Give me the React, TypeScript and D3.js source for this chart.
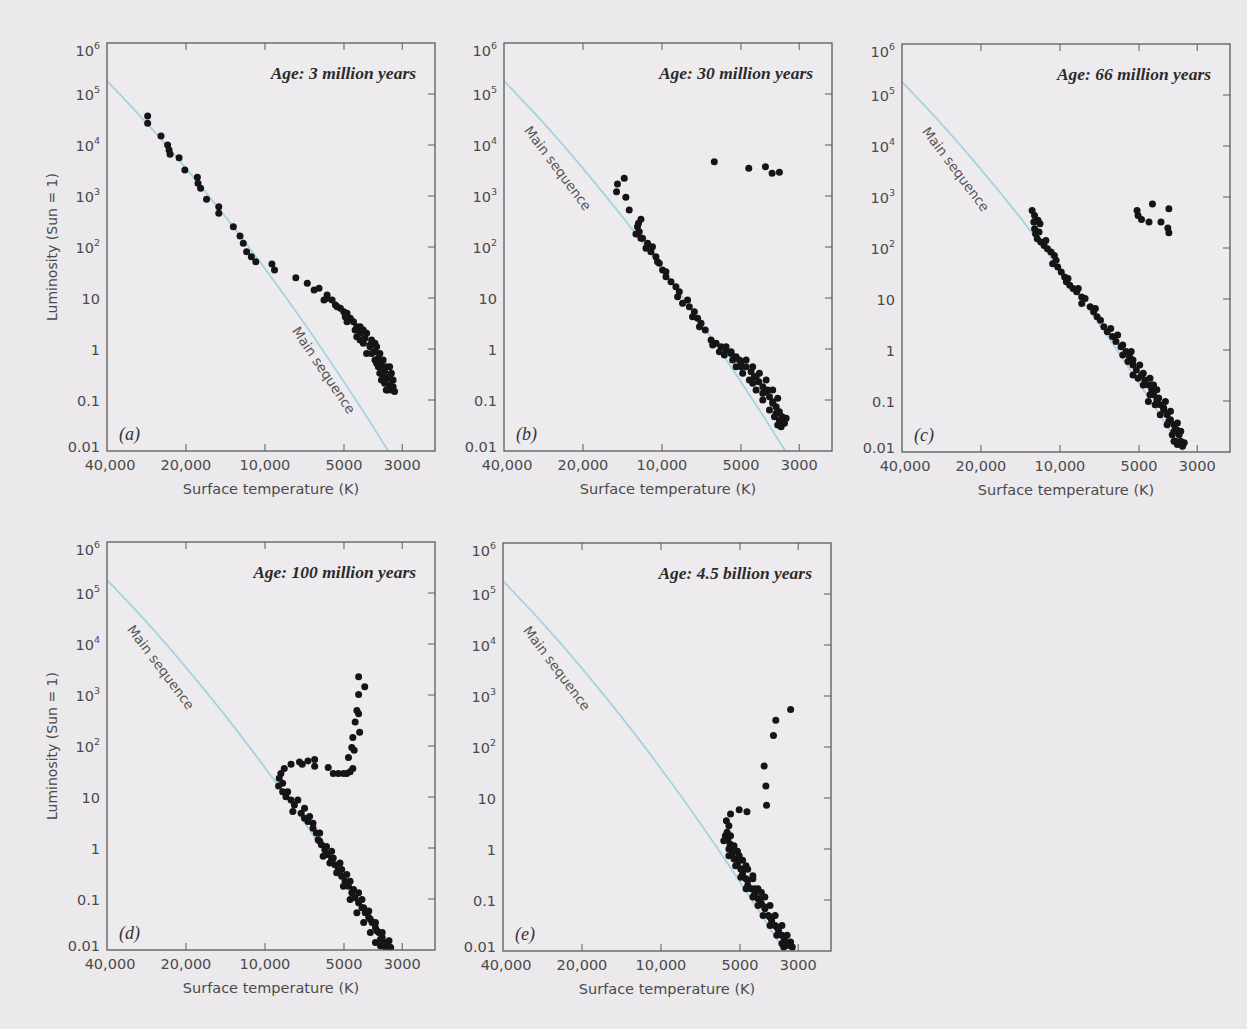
import React, { useEffect } from 'react';
import * as d3 from 'd3';

// ---------- axis ticks ----------
const xTicks = [40000, 20000, 10000, 5000, 3000];
const xTickLabels = ['40,000', '20,000', '10,000', '5000', '3000'];
const yTicks = [1e6, 1e5, 1e4, 1e3, 1e2, 10, 1, 0.1, 0.01];
const yTickBase = ['10', '10', '10', '10', '10', '10', '1', '0.1', '0.01'];
const yTickExp = ['6', '5', '4', '3', '2', '', '', '', ''];

// ---------- main sequence reference line ----------
const msTemp = [40000, 28300, 20050, 14190, 10050, 7110, 5035, 4000, 3390];
const msLum = [1.8e5, 2.71e4, 3530, 398, 38.8, 3.28, 0.239, 0.0386, 0.01];

// ---------- panel texts ----------
const panelTitles = [
  'Age: 3 million years',
  'Age: 30 million years',
  'Age: 66 million years',
  'Age: 100 million years',
  'Age: 4.5 billion years',
];
const panelLetters = ['(a)', '(b)', '(c)', '(d)', '(e)'];

// ---------- star data (surface temperature K, luminosity Sun=1) ----------
const tempA = [28000, 28000, 24900, 23500, 23200, 23000, 21250, 20200, 18100, 18000, 17600, 16700, 15000, 15000, 13200, 12450, 12100, 11750, 11270, 10840, 9410, 9200, 7630, 6900, 6500, 5800, 5310, 5010, 4730, 4470, 4340, 4160, 3980, 3810, 3700, 3600, 3500, 3400, 3350, 3300,
  4600, 4340, 4100, 3925, 3756, 3650, 3546, 3450, 3546, 3500, 3450, 3250, 4870, 5160, 4220, 3810, 5550, 5960, 3650, 3350,
  5392, 4946, 4535, 4340, 3980, 4100, 3810, 3700, 3652, 3300, 3350, 3600, 3250, 3400, 3208, 4870, 4470, 4220, 3925, 3756, 6225, 5800];
const lumA = [37000, 26600, 15000, 10000, 7980, 6580, 5640, 3240, 2330, 1770, 1420, 860, 617, 458, 250, 164, 118, 81, 64.5, 51.5, 46.4, 35.4, 25, 19.4, 14.4, 9.86, 6.75, 5.38, 4.0, 2.74, 2.03, 1.62, 1.2, 0.885, 0.657, 0.485, 0.359, 0.266, 0.197, 0.157,
  3.43, 2.74, 2.03, 1.5, 1.11, 0.82, 0.61, 0.45, 0.286, 0.212, 0.157, 0.182, 5.0, 6.3, 2.36, 1.29, 9.1, 9.1, 0.45, 0.286,
  7.3, 4.29, 2.36, 1.5, 1.11, 0.82, 0.61, 0.45, 0.334, 0.334, 0.45, 0.247, 0.247, 0.157, 0.146, 3.43, 1.74, 1.29, 0.82, 0.525, 15.5, 11.5];

const tempB = [6320, 4670, 4035, 3805, 3570, 13930, 14780, 14900, 13730, 13330,
  12030, 12400, 12210, 12570, 11860, 11350, 10870, 11020, 10550, 10240, 9950, 9660, 9240, 8850, 8590, 8720, 7990, 7870, 7530, 7315, 7100, 6840, 6500, 6220, 5955, 5700, 5455, 5220, 4995, 4780, 4575, 4445, 4280, 4130, 4010, 3895, 3785, 3673, 3570, 3485, 3466, 3515, 3415,
  3728, 3895, 4130, 4380, 4645, 4926, 5220, 5380, 5785, 4780, 4512, 4254, 4010, 3785, 3623,
  5700, 5070, 4995, 4380, 4512, 4130, 3953, 3785, 3673, 3570, 3364, 3623, 5455, 6410, 6046, 7200, 7650, 8350, 9660, 10400, 11510, 12030, 12290];
const lumB = [4710, 3490, 3760, 2790, 2920, 2220, 1720, 1213, 944, 531,
  349, 250, 200, 180, 148, 118, 101, 81, 64.5, 47.9, 35.4, 26.2, 20.9, 16.7, 13.3, 10.6, 9.14, 6.75, 5.38, 4.0, 3.19, 2.36, 1.5, 1.29, 1.11, 0.955, 0.82, 0.707, 0.564, 0.45, 0.359, 0.286, 0.229, 0.182, 0.146, 0.116, 0.0927, 0.074, 0.059, 0.047, 0.0376, 0.030, 0.0349,
  0.047, 0.0637, 0.1, 0.157, 0.247, 0.334, 0.45, 0.608, 0.762, 0.608, 0.45, 0.334, 0.247, 0.157, 0.108,
  1.11, 0.608, 0.45, 0.286, 0.212, 0.135, 0.157, 0.086, 0.0548, 0.0405, 0.0438, 0.0324, 0.885, 1.2, 0.885, 2.74, 4.3, 7.87, 32.8, 51.5, 94.4, 148, 292];

const tempC = [5085, 5040, 4890, 4443, 4580, 3847, 4123, 3882, 3847,
  12770, 12500, 12130, 11920, 12500, 12390, 12210, 11840, 11500, 11160, 10820, 10510, 10670, 10200, 9890, 9600, 9460, 9180, 8910, 8640, 8265, 8265, 7670, 7445, 7220, 6805, 6600, 6310, 6120, 5855, 5600, 5435, 5510, 5270, 5115, 4890, 4750, 4605, 4470, 4400, 4275, 4150, 4025, 3907, 3793, 3678, 3593, 3516, 3466, 3570, 3413,
  4540, 4340, 4150, 3907, 3735, 3678, 4605, 4816, 5040, 4400, 5270, 5766,
  12580, 12020, 11320, 10350, 9322, 8520, 8023, 7330, 7010, 6405, 6030, 5766, 5354, 5270, 4967, 4816, 4540, 4470, 4275, 4208, 3966, 4025, 3793, 3847, 3570, 3678, 3466, 3627, 3362];
const lumC = [542, 433, 362, 733, 322, 586, 322, 246, 199,
  542, 433, 350, 299, 238, 190, 152, 131, 112, 96.9, 83.5, 71.6, 49.3, 42.5, 34, 27.1, 21.7, 18.6, 16, 13.8, 11, 8.17, 7.04, 5.62, 4.49, 2.86, 2.29, 1.83, 1.46, 1.16, 0.93, 0.743, 0.593, 0.509, 0.406, 0.325, 0.259, 0.207, 0.166, 0.132, 0.105, 0.0843, 0.0673, 0.0537, 0.043, 0.0343, 0.0274, 0.0219, 0.0163, 0.014, 0.013,
  0.132, 0.0843, 0.0537, 0.0343, 0.0219, 0.0163, 0.098, 0.207, 0.28, 0.207, 0.325, 0.798,
  322, 205, 141, 57.3, 25.1, 16, 10.2, 6.52, 3.85, 2.65, 1.96, 1.25, 0.93, 0.638, 0.509, 0.351, 0.28, 0.207, 0.166, 0.114, 0.098, 0.0726, 0.0627, 0.04, 0.037, 0.0255, 0.0255, 0.0163, 0.0151];

const tempD = [4398, 4168, 4398, 4465, 4398, 4533, 4359, 4627, 4669, 4573, 4808, 4627, 4881, 4739,
  5025, 5252, 5494, 5743, 6468, 6468, 6859, 7215, 7391, 7957, 8445, 8698,
  8829, 8877, 8566, 8320, 7957, 7727, 7837, 7278, 7068, 6859, 6562, 6371, 6274, 6094, 5916, 5743, 5574, 5414, 5252, 5101, 4955, 4808, 4669, 4533, 4398, 4270, 4148, 4023, 3908, 3795, 3682, 3575, 3521, 3471, 3630, 3420,
  5025, 4739, 4465, 4207, 3968, 3795, 5333, 5659, 6002,
  8566, 8194, 7498, 7068, 6762, 6562, 6188, 6188, 5830, 5574, 5494, 5178, 5101, 4881, 4739, 4597, 4398, 4270, 4207, 4023, 3968, 3795, 3737, 3575, 3630, 3368, 3320];
const lumD = [2285, 1459, 1018, 497, 428, 294, 187, 146, 93, 82.4, 59.4, 36.3, 29, 31.1,
  29, 29, 29, 37.9, 54.3, 40.2, 51, 44, 48.8, 44, 36.3, 29,
  23.2, 16.4, 12.7, 10.1, 8.74, 6.98, 5.17, 4.81, 3.84, 3.3, 2.45, 1.96, 1.45, 1.16, 0.927, 0.74, 0.592, 0.472, 0.378, 0.279, 0.223, 0.178, 0.133, 0.106, 0.0847, 0.0677, 0.054, 0.0432, 0.0345, 0.0276, 0.022, 0.0176, 0.0141, 0.0112, 0.0121, 0.013,
  0.178, 0.098, 0.054, 0.0345, 0.022, 0.0141, 0.326, 0.51, 0.686,
  18.5, 12.7, 8.74, 6.03, 4.13, 3.07, 1.96, 1.35, 1.07, 0.859, 0.638, 0.51, 0.378, 0.302, 0.223, 0.154, 0.133, 0.098, 0.0677, 0.058, 0.04, 0.0345, 0.0237, 0.022, 0.0163, 0.0151, 0.0112];

const tempE = [3207, 3652, 3728, 4045, 3984, 3962,
  4704, 5036, 5433, 5634,
  5598, 5562, 5462, 5512, 5350, 5270, 5113, 4964, 4888, 4743, 4673, 4535, 4398, 4270, 4144, 4019, 3902, 3787, 3673, 3565, 3460, 3377, 3308, 3160, 3408,
  5270, 5036, 4743, 4466, 4270, 4019, 3842, 3673, 3460, 3308, 3207, 5685, 5113, 4888, 4673, 4466, 4144,
  5433, 5765, 5270, 5512, 5113, 5194, 4888, 4964, 4673, 4743, 4398, 4466, 4202, 4270, 4019, 4083, 3842, 3842, 3620, 3620, 3408, 3460, 3254, 5512];
const lumE = [543, 335, 168, 42.4, 17.2, 7.23,
  5.35, 5.86, 4.83, 3.57,
  2.12, 1.57, 1.25, 1.0, 0.8, 0.638, 0.51, 0.407, 0.325, 0.26, 0.192, 0.166, 0.132, 0.106, 0.0843, 0.0673, 0.0498, 0.0398, 0.0318, 0.0254, 0.0203, 0.0162, 0.0129, 0.012, 0.012,
  1.16, 0.74, 0.472, 0.26, 0.166, 0.114, 0.078, 0.0498, 0.0318, 0.0203, 0.015, 1.82, 0.9, 0.6, 0.4, 0.3, 0.14,
  1.82, 1.45, 1.0, 0.74, 0.638, 0.472, 0.407, 0.28, 0.24, 0.166, 0.166, 0.114, 0.106, 0.078, 0.0726, 0.0498, 0.0463, 0.0318, 0.0296, 0.0203, 0.0188, 0.014, 0.0129, 2.85];

// ---------- layout ----------
const W = 328;
const H = 408;
const PAGE_BG = '#ebe9ec';
const PLOT_BG = '#eeebef';
const AXIS_COL = '#5a5a5a';
const TEXT_COL = '#4a4a4a';
const MS_COL = '#a6d2e2';
const DOT_COL = '#151515';
const SANS = "'DejaVu Sans', Verdana, sans-serif";
const SERIF = "'Liberation Serif', 'Times New Roman', serif";

const panels = [
  { left: 107, top: 43, temps: tempA, lums: lumA, yLabel: true, msLabel: { t: 5960, l: 0.387, rot: 56 } },
  { left: 504, top: 43, temps: tempB, lums: lumB, yLabel: false, msLabel: { t: 24900, l: 3540, rot: 53 } },
  { left: 902, top: 44, temps: tempC, lums: lumC, yLabel: false, msLabel: { t: 24900, l: 3540, rot: 53 } },
  { left: 107, top: 542, temps: tempD, lums: lumD, yLabel: true, msLabel: { t: 24900, l: 3540, rot: 53 } },
  { left: 503, top: 543, temps: tempE, lums: lumE, yLabel: false, msLabel: { t: 24900, l: 3540, rot: 53 } },
];

const x = d3.scaleLog().domain([40000, 2250]).range([0, W]);
const y = d3.scaleLog().domain([0.01, 1e6]).range([H, 0]);

const msPath =
  d3
    .line<number>()
    .x((i) => x(msTemp[i]))
    .y((i) => y(msLum[i]))
    .curve(d3.curveMonotoneX)(msTemp.map((_, i) => i)) || '';

function Panel({ idx }: { idx: number }) {
  const p = panels[idx];
  const clipId = `clip-${idx}`;
  return (
    <g transform={`translate(${p.left},${p.top})`}>
      <defs>
        <clipPath id={clipId}>
          <rect x={0} y={0} width={W} height={H} />
        </clipPath>
      </defs>
      <rect x={0} y={0} width={W} height={H} fill={PLOT_BG} />

      {/* main sequence */}
      <path d={msPath} fill="none" stroke={MS_COL} strokeWidth={1.8} clipPath={`url(#${clipId})`} />
      <text
        transform={`translate(${x(p.msLabel.t)},${y(p.msLabel.l)}) rotate(${p.msLabel.rot})`}
        textAnchor="middle"
        dominantBaseline="central"
        fontFamily={SANS}
        fontSize={13.5}
        fill="#555"
      >
        Main sequence
      </text>

      {/* stars */}
      <g clipPath={`url(#${clipId})`}>
        {p.temps.map((t, i) => (
          <circle key={i} cx={x(t)} cy={y(p.lums[i])} r={3.5} fill={DOT_COL} />
        ))}
      </g>

      {/* frame */}
      <rect x={0} y={0} width={W} height={H} fill="none" stroke={AXIS_COL} strokeWidth={1.3} />

      {/* x ticks (top & bottom, inward) */}
      {xTicks.slice(1).map((t) => (
        <g key={`xt${t}`}>
          <line x1={x(t)} x2={x(t)} y1={0} y2={7} stroke={AXIS_COL} strokeWidth={1} />
          <line x1={x(t)} x2={x(t)} y1={H} y2={H - 7} stroke={AXIS_COL} strokeWidth={1} />
        </g>
      ))}
      {/* y ticks (right, inward) */}
      {yTicks.slice(1, -1).map((v) => (
        <line key={`yt${v}`} x1={W} x2={W - 7} y1={y(v)} y2={y(v)} stroke={AXIS_COL} strokeWidth={1} />
      ))}

      {/* x tick labels */}
      {xTicks.map((t, i) => (
        <text
          key={`xl${t}`}
          x={x(t) + (i === 0 ? 3 : 0)}
          y={H + 19}
          textAnchor="middle"
          fontFamily={SANS}
          fontSize={14.5}
          fill={TEXT_COL}
        >
          {xTickLabels[i]}
        </text>
      ))}

      {/* y tick labels */}
      {yTicks.map((v, i) => {
        const nudge = i === 0 ? 7 : i === yTicks.length - 1 ? -5 : 0;
        return (
          <text
            key={`yl${v}`}
            x={-7}
            y={y(v) + 6 + nudge}
            textAnchor="end"
            fontFamily={SANS}
            fontSize={14.5}
            fill={TEXT_COL}
          >
            <tspan>{yTickBase[i]}</tspan>
            {yTickExp[i] ? (
              <tspan dy={-7} fontSize={9.5}>
                {yTickExp[i]}
              </tspan>
            ) : null}
          </text>
        );
      })}

      {/* axis titles */}
      <text x={W / 2} y={H + 43} textAnchor="middle" fontFamily={SANS} fontSize={14.5} fill={TEXT_COL}>
        Surface temperature (K)
      </text>
      {p.yLabel ? (
        <text
          transform={`translate(${-55},${H / 2}) rotate(-90)`}
          textAnchor="middle"
          dominantBaseline="central"
          fontFamily={SANS}
          fontSize={14}
          fill={TEXT_COL}
        >
          Luminosity (Sun = 1)
        </text>
      ) : null}

      {/* panel title & letter */}
      <text
        x={W - 19}
        y={36}
        textAnchor="end"
        fontFamily={SERIF}
        fontStyle="italic"
        fontWeight="bold"
        fontSize={17.5}
        fill="#2b2b2b"
      >
        {panelTitles[idx]}
      </text>
      <text x={12} y={H - 11} fontFamily={SERIF} fontStyle="italic" fontSize={18} fill="#333">
        {panelLetters[idx]}
      </text>
    </g>
  );
}

export default function App() {
  useEffect(() => {
    document.body.style.margin = '0';
    document.body.style.background = PAGE_BG;
  }, []);
  return (
    <svg
      width={1247}
      height={1029}
      viewBox="0 0 1247 1029"
      style={{ position: 'absolute', left: 0, top: 0, display: 'block' }}
    >
      <rect x={0} y={0} width={1247} height={1029} fill={PAGE_BG} />
      {panels.map((_, i) => (
        <Panel key={i} idx={i} />
      ))}
    </svg>
  );
}
